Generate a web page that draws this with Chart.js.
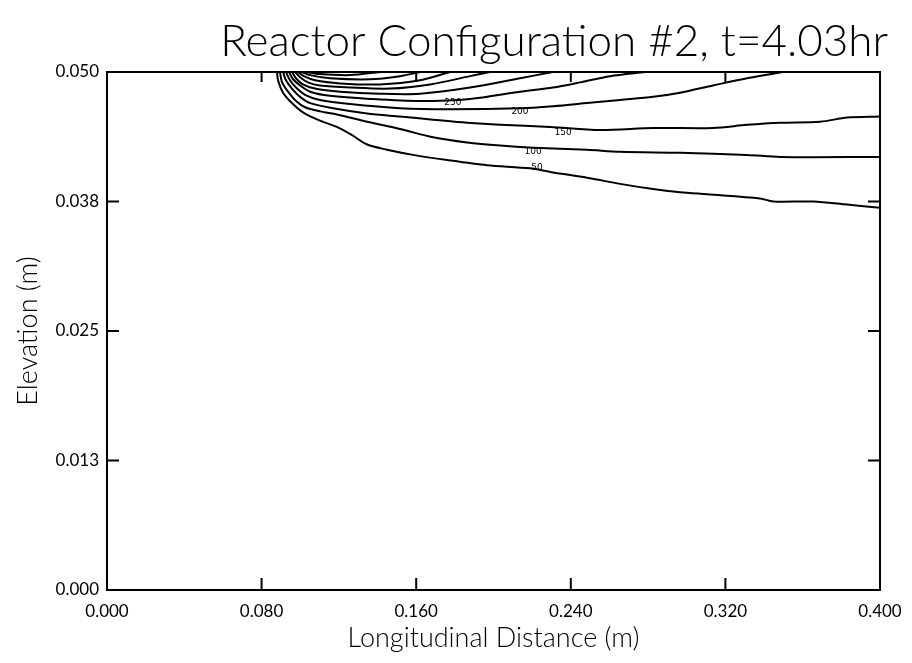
<!DOCTYPE html>
<html>
<head>
<meta charset="utf-8">
<script src="https://cdn.jsdelivr.net/npm/chart.js@4.4.0/dist/chart.umd.min.js"></script>
<style>
    html, body { margin: 0; padding: 0; background: #fff; }
    #wrap { width: 912px; height: 663px; }
</style>
</head>
<body>
<div id="wrap"><canvas id="grafico"></canvas></div>
<script>
// ================================================
//  Reactor Configuration #2 — isotherm contours
// ================================================

const TITULO   = 'Reactor Configuration #2, t=4.03hr';
const TITULO_X = 'Longitudinal Distance (m)';
const TITULO_Y = 'Elevation (m)';

const X_TICKS  = [0, 0.08, 0.16, 0.24, 0.32, 0.40];
const X_LABELS = ['0.000', '0.080', '0.160', '0.240', '0.320', '0.400'];
const Y_TICKS  = [0, 0.0125, 0.025, 0.0375, 0.05];
const Y_LABELS = ['0.000', '0.013', '0.025', '0.038', '0.050'];

// contour lines (x, y in metres)
const x50  = [0.0880, 0.0885, 0.0911, 0.0957, 0.1014, 0.1102, 0.1190, 0.1268, 0.1346, 0.1449, 0.1584, 0.1760, 0.1967, 0.2189, 0.2308, 0.2484, 0.2655, 0.2826, 0.2965, 0.3105, 0.3379, 0.3447, 0.3654, 0.3830, 0.4000];
const y50  = [0.0500, 0.0492, 0.0480, 0.0470, 0.0461, 0.0453, 0.0447, 0.0439, 0.0430, 0.0425, 0.0420, 0.0415, 0.0410, 0.0407, 0.0403, 0.0398, 0.0392, 0.0387, 0.0384, 0.0382, 0.0378, 0.0375, 0.0375, 0.0372, 0.0369];

const x100 = [0.0895, 0.0906, 0.0937, 0.0978, 0.1025, 0.1102, 0.1190, 0.1346, 0.1516, 0.1687, 0.1863, 0.2034, 0.2205, 0.2484, 0.2655, 0.2965, 0.3312, 0.3483, 0.4000];
const y100 = [0.0500, 0.0490, 0.0481, 0.0472, 0.0466, 0.0462, 0.0459, 0.0452, 0.0445, 0.0437, 0.0432, 0.0429, 0.0427, 0.0425, 0.0423, 0.0422, 0.0420, 0.0418, 0.0418];

const x150 = [0.0911, 0.0926, 0.0957, 0.0999, 0.1051, 0.1170, 0.1346, 0.1516, 0.1687, 0.1863, 0.2034, 0.2293, 0.2551, 0.2826, 0.3136, 0.3312, 0.3483, 0.3690, 0.3830, 0.4000];
const y150 = [0.0500, 0.0492, 0.0484, 0.0476, 0.0470, 0.0465, 0.0460, 0.0457, 0.0454, 0.0451, 0.0449, 0.0447, 0.0444, 0.0446, 0.0446, 0.0449, 0.0451, 0.0452, 0.0456, 0.0457];

const x200 = [0.0926, 0.0947, 0.0978, 0.1025, 0.1102, 0.1258, 0.1516, 0.1775, 0.2137, 0.2308, 0.2484, 0.2655, 0.2826, 0.2965, 0.3136, 0.3312, 0.3498];
const y200 = [0.0500, 0.0492, 0.0485, 0.0478, 0.0473, 0.0469, 0.0465, 0.0464, 0.0465, 0.0467, 0.0470, 0.0473, 0.0476, 0.0480, 0.0487, 0.0494, 0.0500];

const x250 = [0.0942, 0.0963, 0.0999, 0.1051, 0.1154, 0.1361, 0.1620, 0.1879, 0.2137, 0.2308, 0.2448, 0.2603, 0.2784];
const y250 = [0.0500, 0.0493, 0.0487, 0.0481, 0.0477, 0.0474, 0.0472, 0.0474, 0.0481, 0.0485, 0.0490, 0.0496, 0.0500];

const x300 = [0.0957, 0.0978, 0.1014, 0.1076, 0.1206, 0.1413, 0.1620, 0.1879, 0.2137, 0.2308];
const y300 = [0.0500, 0.0494, 0.0488, 0.0484, 0.0481, 0.0479, 0.0479, 0.0485, 0.0494, 0.0500];

const x350 = [0.0973, 0.0999, 0.1040, 0.1102, 0.1258, 0.1465, 0.1672, 0.1879, 0.1982];
const y350 = [0.0500, 0.0495, 0.0490, 0.0487, 0.0485, 0.0484, 0.0488, 0.0496, 0.0500];

const x400 = [0.0988, 0.1019, 0.1076, 0.1206, 0.1413, 0.1620, 0.1775];
const y400 = [0.0500, 0.0496, 0.0492, 0.0489, 0.0488, 0.0492, 0.0500];

const x450 = [0.1009, 0.1051, 0.1154, 0.1361, 0.1516, 0.1620];
const y450 = [0.0500, 0.0497, 0.0494, 0.0493, 0.0496, 0.0500];

const x500 = [0.1030, 0.1102, 0.1258, 0.1413];
const y500 = [0.0500, 0.0498, 0.0497, 0.0500];

// inline contour labels
const ROTULOS   = ['250', '200', '150', '100', '50'];
const ROTULOS_X = [0.179, 0.2137, 0.236, 0.2205, 0.2225];
const ROTULOS_Y = [0.0470, 0.0462, 0.0441, 0.0423, 0.0408];

const CONTORNOS = [
    [x50, y50], [x100, y100], [x150, y150], [x200, y200], [x250, y250],
    [x300, y300], [x350, y350], [x400, y400], [x450, y450], [x500, y500]
];

// ------------------------------------------------
// Frame, inward tick marks, labels and title
// ------------------------------------------------
const moldura = {
    id: 'moldura',
    afterDatasetsDraw(chart) {
        const { ctx, chartArea: a, scales: { x, y } } = chart;
        ctx.save();
        ctx.strokeStyle = '#000';
        ctx.lineWidth = 2;
        ctx.strokeRect(a.left, a.top, a.right - a.left, a.bottom - a.top);

        ctx.beginPath();
        X_TICKS.slice(1, -1).forEach(v => {
            const px = x.getPixelForValue(v);
            ctx.moveTo(px, a.bottom); ctx.lineTo(px, a.bottom - 12);
            ctx.moveTo(px, a.top);    ctx.lineTo(px, a.top + 10);
        });
        Y_TICKS.slice(1, -1).forEach(v => {
            const py = y.getPixelForValue(v);
            ctx.moveTo(a.left, py);  ctx.lineTo(a.left + 12, py);
            ctx.moveTo(a.right, py); ctx.lineTo(a.right - 12, py);
        });
        ctx.stroke();

        ctx.fillStyle = '#000';
        ctx.font = '9px "DejaVu Sans"';
        ctx.textAlign = 'center';
        ctx.textBaseline = 'middle';
        ROTULOS.forEach((t, i) => {
            ctx.fillText(t, x.getPixelForValue(ROTULOS_X[i]), y.getPixelForValue(ROTULOS_Y[i]));
        });

        ctx.font = '300 44px Lato';
        ctx.textAlign = 'right';
        ctx.textBaseline = 'alphabetic';
        ctx.fillText(TITULO, a.right + 8, 56);
        ctx.restore();
    }
};

new Chart(document.getElementById('grafico').getContext('2d'), {
    type: 'scatter',
    data: {
        datasets: CONTORNOS.map(([xs, ys]) => ({
            data: xs.map((v, i) => ({ x: v, y: ys[i] })),
            showLine: true,
            borderColor: '#000',
            borderWidth: 2,
            pointRadius: 0,
            tension: 0.3,
            fill: false
        }))
    },
    options: {
        responsive: true,
        maintainAspectRatio: false,
        animation: false,
        layout: { padding: { top: 72, right: 32, left: 0, bottom: 0 } },
        plugins: { legend: { display: false }, tooltip: { enabled: false } },
        scales: {
            x: {
                type: 'linear', min: 0, max: 0.4,
                afterBuildTicks: s => { s.ticks = X_TICKS.map(v => ({ value: v })); },
                afterFit: s => { s.height = 73; },
                grid: { display: false },
                border: { display: false },
                ticks: {
                    color: '#000', padding: 3, maxRotation: 0,
                    font: { family: 'Lato', size: 17 },
                    callback: (v, i) => X_LABELS[i]
                },
                title: {
                    display: true, text: TITULO_X, color: '#000',
                    font: { family: 'Lato', size: 27, weight: '300' },
                    padding: { top: 0, bottom: 9 }
                }
            },
            y: {
                type: 'linear', min: 0, max: 0.05,
                afterBuildTicks: s => { s.ticks = Y_TICKS.map(v => ({ value: v })); },
                afterFit: s => { s.width = 107; },
                grid: { display: false },
                border: { display: false },
                ticks: {
                    color: '#000', padding: 0,
                    font: { family: 'Lato', size: 17 },
                    callback: (v, i) => Y_LABELS[i]
                },
                title: {
                    display: true, text: TITULO_Y, color: '#000',
                    font: { family: 'Lato', size: 27, weight: '300' },
                    padding: { top: 12, bottom: 0 }
                }
            }
        }
    },
    plugins: [moldura]
});
</script>
</body>
</html>
